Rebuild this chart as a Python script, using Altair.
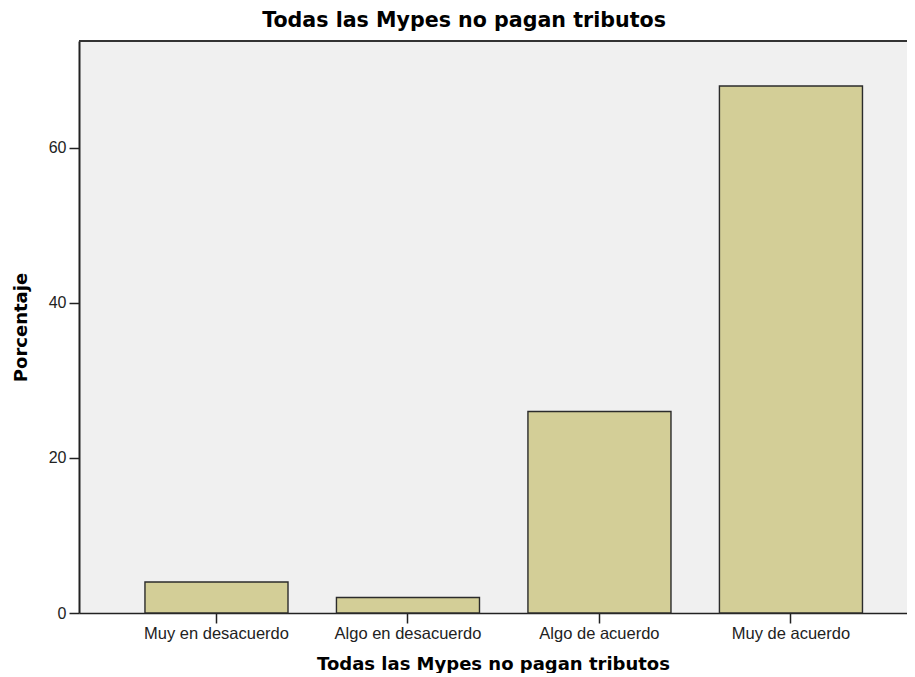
import altair as alt
import pandas as pd

categories = ["Muy en desacuerdo", "Algo en desacuerdo", "Algo de acuerdo", "Muy de acuerdo"]
percentages = [4.0, 2.0, 26.0, 68.0]
y_ticks = [0, 20, 40, 60]

df = pd.DataFrame({"cat": categories, "pct": percentages})

W, H = 828, 572

bars = alt.Chart(df).mark_bar(
    fill="#D3CE97", stroke="#2b2b2b", strokeWidth=1.4
).encode(
    x=alt.X("cat:N", sort=categories,
            scale=alt.Scale(paddingInner=0.253, paddingOuter=0.2885, align=0.597),
            axis=alt.Axis(title="Todas las Mypes no pagan tributos", labelAngle=0,
                          labelFont="Liberation Sans", labelFontSize=16.5, labelColor="#222",
                          titleFont="DejaVu Sans", titleFontSize=18, titleFontWeight="bold",
                          titleColor="#000", titlePadding=14,
                          domainColor="#222", domainWidth=1.5, tickColor="#222",
                          tickSize=10, tickWidth=1.5, labelPadding=2)),
    y=alt.Y("pct:Q", scale=alt.Scale(domain=[0, 73.8], nice=False),
            axis=alt.Axis(title="Porcentaje", values=y_ticks, grid=False,
                          labelFont="Liberation Sans", labelFontSize=16, labelColor="#222",
                          titleFont="DejaVu Sans", titleFontSize=18, titleFontWeight="bold",
                          titleColor="#000", titlePadding=18,
                          domainColor="#222", domainWidth=2, tickColor="#222",
                          tickSize=10, tickWidth=1.5, labelPadding=3)),
)

top_border = alt.Chart(df).mark_rule(color="#333", strokeWidth=2).encode(
    x=alt.value(0), x2=alt.value(W), y=alt.value(0)
)

chart = alt.layer(bars, top_border).properties(
    width=W, height=H,
    title=alt.TitleParams("Todas las Mypes no pagan tributos", font="DejaVu Sans",
                          fontSize=20.6, fontWeight="bold", color="#000", dx=-29, offset=8),
    padding={"left": 71, "top": 33, "right": 0, "bottom": 60},
    autosize=alt.AutoSizeParams(type="none"),
).configure_view(
    fill="#F0F0F0", stroke=None
)

chart.save("out.html", embed_options={"renderer": "svg", "actions": False})
